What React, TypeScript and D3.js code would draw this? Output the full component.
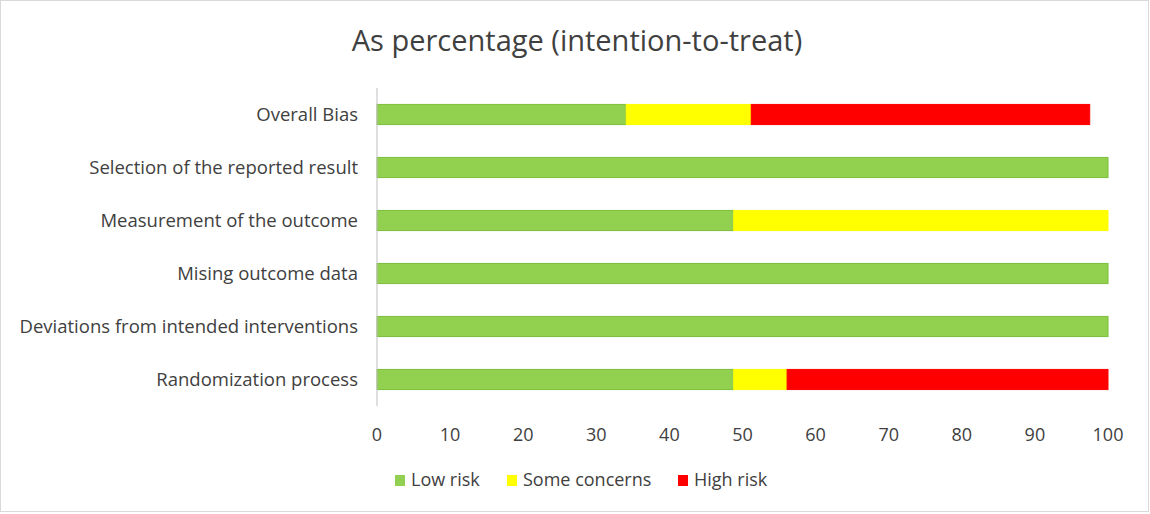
import React from "react";
import * as d3 from "d3";

const categories = [
  "Overall Bias",
  "Selection of the reported result",
  "Measurement of the outcome",
  "Mising outcome data",
  "Deviations from intended interventions",
  "Randomization process",
];
const lowRisk = [34.1, 100, 48.8, 100, 100, 48.8];
const someConcerns = [17.1, 0, 51.2, 0, 0, 7.3];
const highRisk = [46.3, 0, 0, 0, 0, 43.9];
const seriesNames = ["Low risk", "Some concerns", "High risk"];
const seriesColors = ["#92D050", "#FFFF00", "#FF0000"];
const seriesStroke = ["#7DBE3C", "#FFFF00", "#FF0000"];
const xTicks = [0, 10, 20, 30, 40, 50, 60, 70, 80, 90, 100];
const title = "As percentage (intention-to-treat)";

const W = 1150;
const H = 514;
const FONT = "'Open Sans', sans-serif";
const TEXT = "#404040";

export default function App() {
  const x = d3.scaleLinear().domain([0, 100]).range([377, 1108]);
  const y = d3.scaleBand<string>().domain(categories).range([88, 406]).paddingInner(0.62).paddingOuter(0.31);
  const series = [lowRisk, someConcerns, highRisk];
  const stack = categories.map((c, i) => {
    let acc = 0;
    return series.map((s, k) => {
      const x0 = acc;
      acc += s[i];
      return { c, k, x0, x1: acc };
    });
  });
  const legendX = [395, 507, 678];
  return (
    <svg width={W} height={H} style={{ position: "fixed", left: 0, top: 0, background: "#fff" }} fontFamily={FONT}>
      <rect x={0.5} y={0.5} width={W - 2} height={H - 3} fill="#fff" stroke="#d9d9d9" />
      <text x={577} y={51} textAnchor="middle" fontSize={29} fill={TEXT}>{title}</text>
      {stack.map((row, i) =>
        row.filter((d) => d.x1 - d.x0 > 0).map((d) => (
          <rect key={`${i}-${d.k}`} x={x(d.x0)} y={y(d.c)!} width={x(d.x1) - x(d.x0)} height={y.bandwidth()}
            fill={seriesColors[d.k]} stroke={seriesStroke[d.k]} strokeWidth={1} />
        ))
      )}
      <line x1={377} x2={377} y1={88} y2={406} stroke="#bfbfbf" strokeWidth={1} />
      {categories.map((c) => (
        <text key={c} x={358} y={y(c)! + y.bandwidth() / 2} dy="0.35em" textAnchor="end" fontSize={18.5} fill={TEXT}>{c}</text>
      ))}
      {xTicks.map((t) => (
        <text key={t} x={x(t)} y={441} textAnchor="middle" fontSize={18} fill={TEXT}>{t}</text>
      ))}
      {seriesNames.map((n, k) => (
        <g key={n}>
          <rect x={legendX[k]} y={475} width={10} height={11} fill={seriesColors[k]} />
          <text x={legendX[k] + 16} y={486} fontSize={18} fill={TEXT}>{n}</text>
        </g>
      ))}
    </svg>
  );
}
